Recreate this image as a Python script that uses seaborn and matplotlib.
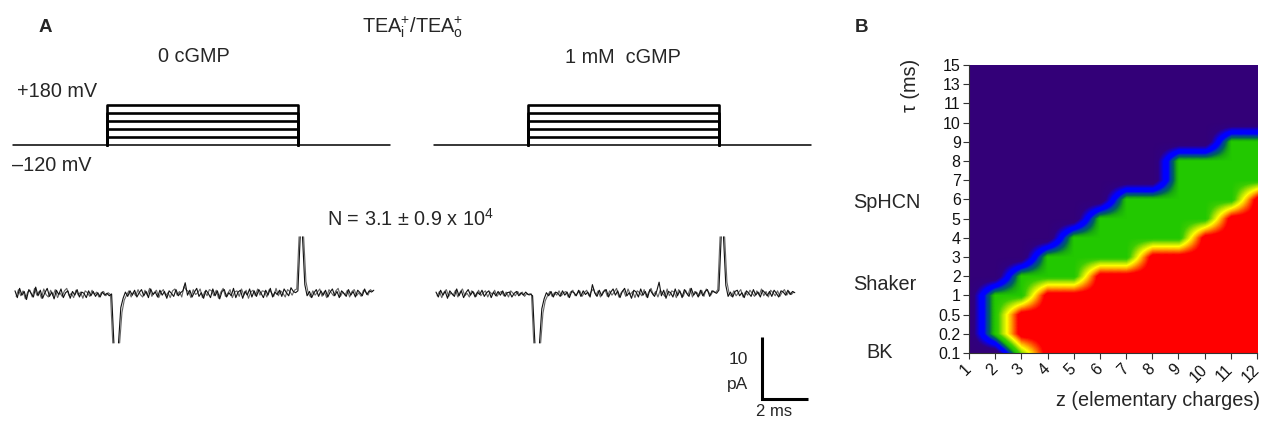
import numpy as np
import pandas as pd
import matplotlib
matplotlib.use("Agg")
import matplotlib.pyplot as plt
from matplotlib.colors import LinearSegmentedColormap
import seaborn as sns

# ------------------------------------------------------------------ data
# Voltage protocol (mV, ms)
holding_mV = -120
step_mV = [-60, 0, 60, 120, 180]
pulse_on_ms = 4.0
pulse_off_ms = 12.3
sweep_start_ms = -0.1
sweep_end_ms = 16.3

# Current traces (pA), two overlaid sweeps per condition, sampled every 0.1 ms,
# each in three pieces split at the clipped capacitive transients
trace_dt = 0.1
seg_start_a = [0.0, 4.5, 12.5]
seg_start_b = [0.05, 4.55, 12.55]

left_a_seg1 = [0.5, -0.6, 0.9, -0.2, 0.4, -0.9, 0.7, 0.1, -0.5, 1.1,
               -0.3, 0.6, -0.7, 0.2, 0.9, -0.4, 0.3, -0.8, 0.6, -0.1,
               0.8, -0.6, 0.2, 0.5, -0.7, 0.4, -0.2, 0.7, -0.5, 0.3,
               0.1, -0.6, 0.5, -0.3, 0.4, -0.4, 0.2, -0.5, 0.3, -0.2,
               0.1, -0.3, 0.0, -7.9]
left_a_seg2 = [-7.9, -2.2, -0.7, 0.3, -0.4, 0.5, -0.2, 0.6, -0.5, 0.2,
               0.7, -0.3, 0.4, -0.6, 0.8, -0.1, 0.3, -0.5, 0.6, -0.2,
               0.4, -0.7, 0.5, 0.1, -0.4, 0.7, -0.3, 0.2, 0.5, 1.8,
               -0.2, 0.6, -0.5, 0.3, 0.9, -0.4, 0.2, -0.7, 0.6, 0.1,
               -0.6, 0.8, -0.3, 0.5, -0.8, 0.4, 0.7, -0.5, 0.2, -0.3,
               0.9, -0.6, 0.3, 0.6, -0.7, 0.4, -0.2, 0.8, -0.5, 0.5,
               -0.4, 0.7, 0.1, -0.6, 0.6, -0.2, 0.9, -0.5, 0.3, -0.1,
               0.6, -0.4, 0.8, 0.2, -0.3, 1.0, 0.4, 0.2, 0.5, 9.2]
left_a_seg3 = [9.2, 1.5, -0.3, 0.4, -0.6, 0.2, 0.7, -0.4, 0.5, -0.2,
               0.6, -0.5, 0.3, 0.8, -0.3, 0.4, -0.6, 0.5, 0.1, -0.4,
               0.7, -0.2, 0.4, -0.5, 0.6, 0.2, -0.3, 0.8, -0.1, 0.5,
               0.3, 0.6]
left_b_seg1 = [-0.4, 0.7, -0.3, 0.5, -0.8, 0.3, 0.6, -0.5, 0.9, -0.2,
               0.4, -0.7, 0.8, -0.1, -0.5, 0.6, -0.3, 0.7, -0.6, 0.2,
               -0.4, 0.5, 0.9, -0.3, 0.1, -0.6, 0.6, -0.2, 0.3, -0.7,
               0.5, 0.2, -0.4, 0.6, -0.1, 0.3, -0.5, 0.2, 0.4, -0.3,
               0.2, -0.1, -7.9]
left_b_seg2 = [-7.9, -3.0, -1.0, -0.2, 0.5, -0.5, 0.3, -0.3, 0.7, -0.1,
               -0.5, 0.6, -0.2, 0.9, -0.4, 0.2, 0.6, -0.6, 0.3, 0.7,
               -0.3, 0.2, -0.6, 0.5, 0.8, -0.2, 0.4, -0.5, 1.2, 0.6,
               0.4, -0.6, 0.7, -0.1, 0.2, 0.8, -0.6, 0.4, -0.3, 0.7,
               0.5, -0.3, 0.6, -0.7, 0.3, 0.9, -0.4, 0.1, 0.7, -0.6,
               0.3, 0.5, -0.4, 0.8, -0.2, 0.6, -0.7, 0.3, 0.6, -0.3,
               0.8, -0.2, 0.5, 0.4, -0.5, 0.7, 0.2, -0.4, 0.9, -0.3,
               0.5, 0.1, -0.5, 0.7, 0.4, -0.2, 0.6, 0.8, 9.2]
left_b_seg3 = [9.2, 2.0, 0.1, -0.5, 0.5, -0.2, 0.3, 0.8, -0.4, 0.4,
               -0.6, 0.7, 0.2, -0.3, 0.5, 0.9, -0.4, 0.3, -0.2, 0.6,
               -0.5, 0.4, 0.7, -0.3, 0.2, -0.4, 0.6, 0.3, -0.2, 0.7,
               0.4]

right_a_seg1 = [0.3, -0.5, 0.6, -0.2, 0.4, -0.7, 0.5, 0.0, -0.4, 0.8,
                -0.3, 0.5, -0.6, 0.2, 0.7, -0.2, 0.4, -0.5, 0.3, -0.1,
                0.6, -0.4, 0.2, 0.5, -0.6, 0.3, -0.3, 0.4, -0.2, 0.5,
                -0.4, 0.2, 0.3, -0.5, 0.1, 0.4, -0.3, 0.2, -0.2, 0.3,
                -0.1, 0.0, -0.3, -7.9]
right_a_seg2 = [-7.9, -2.4, -0.8, 0.2, -0.3, 0.4, -0.5, 0.3, 0.1, -0.4,
                0.5, -0.2, 0.3, -0.6, 0.4, 0.2, -0.3, 0.6, -0.4, 0.5,
                -0.1, 0.3, -0.5, 1.5, 0.2, -0.4, 0.6, -0.3, 0.4, 0.7,
                -0.5, 0.3, 0.8, -0.2, 0.5, -0.6, 0.4, 0.9, -0.3, 0.2,
                -0.7, 0.6, 0.3, -0.5, 0.8, -0.2, 0.4, -0.6, 0.7, 0.1,
                -0.4, 0.5, 1.9, -0.3, 0.6, -0.7, 0.4, 0.2, -0.5, 0.8,
                -0.3, 0.5, -0.6, 0.7, 0.1, -0.4, 0.9, -0.2, 0.3, -0.5,
                0.6, -0.3, 0.4, 0.7, -0.4, 0.5, 0.3, 0.1, 0.6, 9.2]
right_a_seg3 = [9.2, 1.4, -0.4, 0.3, -0.5, 0.4, 0.6, -0.3, 0.2, -0.6,
                0.5, 0.1, -0.4, 0.7, -0.2, 0.3, -0.5, 0.6, 0.2, -0.3,
                0.4, -0.4, 0.6, 0.1, -0.5, 0.5, 0.3, -0.2, 0.6, -0.1,
                0.4, 0.2]
right_b_seg1 = [-0.3, 0.4, -0.6, 0.3, 0.7, -0.4, 0.2, -0.2, 0.6, -0.5,
                0.3, 0.8, -0.3, 0.1, -0.5, 0.5, 0.2, -0.4, 0.6, -0.3,
                0.2, 0.5, -0.5, 0.3, -0.1, 0.6, -0.4, 0.2, 0.4, -0.3,
                0.3, -0.5, 0.5, 0.1, -0.3, 0.4, -0.2, 0.3, -0.4, 0.1,
                -0.2, 0.0, -7.9]
right_b_seg2 = [-7.9, -3.1, -1.1, -0.3, 0.4, -0.4, 0.2, -0.2, 0.5, -0.3,
                0.2, 0.4, -0.5, 0.3, 0.6, -0.3, 0.1, 0.5, -0.4, 0.2,
                0.6, -0.3, 0.4, 0.8, -0.2, 0.5, -0.5, 0.3, 0.7, -0.4,
                0.5, -0.2, 0.3, 0.9, -0.5, 0.2, 0.6, -0.4, 0.8, -0.1,
                0.4, -0.6, 0.5, 0.2, -0.3, 0.7, -0.5, 0.3, 0.9, -0.2,
                0.4, -0.5, 0.6, 0.1, -0.4, 0.8, -0.3, 0.5, 0.3, -0.6,
                0.7, 0.1, -0.4, 0.6, -0.2, 0.9, -0.5, 0.4, 0.2, -0.3,
                0.6, -0.4, 0.8, 0.3, -0.2, 0.5, 0.2, 0.7, 9.2]
right_b_seg3 = [9.2, 1.9, 0.0, -0.4, 0.5, -0.3, 0.2, 0.7, -0.5, 0.3,
                -0.2, 0.6, 0.1, -0.4, 0.5, -0.2, 0.8, -0.3, 0.4, -0.5,
                0.6, 0.2, -0.3, 0.5, -0.4, 0.3, 0.7, -0.2, 0.4, -0.1,
                0.3]
scale_ms = 2
scale_pA = 10

# Panel B: map over z (columns) and tau (rows, bottom = 0.1 ms)
z_charges = [1, 2, 3, 4, 5, 6, 7, 8, 9, 10, 11, 12]
tau_labels = ["0.1", "0.2", "0.5", "1", "2", "3", "4", "5", "6", "7",
              "8", "9", "10", "11", "13", "15"]
occupancy = [
    [0, 0, 1.2, 2, 2, 2, 2, 2, 2, 2, 2, 2],   # 0.1
    [0, 1, 2, 2, 2, 2, 2, 2, 2, 2, 2, 2],     # 0.2
    [0, 1, 2, 2, 2, 2, 2, 2, 2, 2, 2, 2],     # 0.5
    [0, 1, 1, 2, 2, 2, 2, 2, 2, 2, 2, 2],     # 1
    [0, 0, 1, 1, 1, 2, 2, 2, 2, 2, 2, 2],     # 2
    [0, 0, 0, 1, 1, 1, 1, 2, 2, 2, 2, 2],     # 3
    [0, 0, 0, 0, 1, 1, 1, 1, 1, 2, 2, 2],     # 4
    [0, 0, 0, 0, 0, 1, 1, 1, 1, 1, 2, 2],     # 5
    [0, 0, 0, 0, 0, 0, 1, 1, 1, 1, 1, 2],     # 6
    [0, 0, 0, 0, 0, 0, 0, 0, 1, 1, 1, 1],     # 7
    [0, 0, 0, 0, 0, 0, 0, 0, 1, 1, 1, 1],     # 8
    [0, 0, 0, 0, 0, 0, 0, 0, 0, 0, 1, 1],     # 9
    [0, 0, 0, 0, 0, 0, 0, 0, 0, 0, 0, 0],     # 10
    [0, 0, 0, 0, 0, 0, 0, 0, 0, 0, 0, 0],     # 11
    [0, 0, 0, 0, 0, 0, 0, 0, 0, 0, 0, 0],     # 13
    [0, 0, 0, 0, 0, 0, 0, 0, 0, 0, 0, 0],     # 15
]
channel_names = ["SpHCN", "Shaker", "BK"]

# ------------------------------------------------------------------ style
sns.set_theme(style="ticks")
plt.rcParams["font.family"] = ["Liberation Sans", "DejaVu Sans"]
plt.rcParams["mathtext.fontset"] = "custom"
plt.rcParams["mathtext.rm"] = "Liberation Sans"
plt.rcParams["mathtext.it"] = "Liberation Sans:italic"

W, H = 1262, 428
fig = plt.figure(figsize=(W / 100, H / 100), dpi=100)


def add_ax(l, t, w, h):
    return fig.add_axes([l / W, 1 - (t + h) / H, w / W, h / H])


def ftext(x, y, s, **kw):
    fig.text(x / W, 1 - y / H, s, **kw)


PX_PER_MS = 23.0
T_MIN = -0.2
AX_W = 410
t_range = (T_MIN, T_MIN + AX_W / PX_PER_MS)
origins = [15, 436]

# protocol frame
pulse_rows = []
for k, v in enumerate(step_mV):
    for t, u in [(pulse_on_ms, holding_mV), (pulse_on_ms, v),
                 (pulse_off_ms, v), (pulse_off_ms, holding_mV)]:
        pulse_rows.append({"t": t, "V": u, "step": k})
pulses = pd.DataFrame(pulse_rows)
holding = pd.DataFrame({"t": [sweep_start_ms, sweep_end_ms],
                        "V": [holding_mV, holding_mV]})


def trace_frame(segs, starts):
    rows = []
    for si, seg in enumerate(segs):
        for i, val in enumerate(seg):
            rows.append({"t": starts[si] + trace_dt * i, "I": val, "seg": si})
    return pd.DataFrame(rows)


traces = [
    (trace_frame([left_b_seg1, left_b_seg2, left_b_seg3], seg_start_b),
     trace_frame([left_a_seg1, left_a_seg2, left_a_seg3], seg_start_a)),
    (trace_frame([right_b_seg1, right_b_seg2, right_b_seg3], seg_start_b),
     trace_frame([right_a_seg1, right_a_seg2, right_a_seg3], seg_start_a)),
]

for side, x0 in enumerate(origins):
    left_px = x0 + T_MIN * PX_PER_MS
    # protocol
    axp = add_ax(left_px, 95, AX_W, 60)
    sns.lineplot(data=holding, x="t", y="V", estimator=None, color="black", lw=1.1,
                 ax=axp, sort=False)
    sns.lineplot(data=pulses, x="t", y="V", units="step", estimator=None, sort=False,
                 color="black", lw=1.9, ax=axp)
    axp.set_xlim(*t_range)
    axp.set_ylim(-195, 255)
    axp.set_axis_off()
    # traces
    axt = add_ax(left_px, 230, AX_W, 180)
    sweep_b, sweep_a = traces[side]
    sns.lineplot(data=sweep_b, x="t", y="I", units="seg", estimator=None,
                 sort=False, color="#666666", lw=0.8, ax=axt)
    sns.lineplot(data=sweep_a, x="t", y="I", units="seg", estimator=None,
                 sort=False, color="#111111", lw=0.8, ax=axt)
    axt.set_xlim(*t_range)
    axt.set_ylim(-18.7, 10.3)
    axt.set_axis_off()
    if side == 1:
        bar_t, bar_i = 14.17, -16.9
        bar = pd.DataFrame({"t": [bar_t, bar_t, bar_t + scale_ms],
                            "I": [bar_i + scale_pA, bar_i, bar_i]})
        sns.lineplot(data=bar, x="t", y="I", estimator=None, sort=False,
                     color="black", lw=2.2, ax=axt)
        axt.lines[-1].set_solid_joinstyle("miter")
        axt.lines[-1].set_solid_capstyle("butt")

# panel A texts
FS = 14.3
ftext(45, 28, "A", fontsize=13.5, fontweight="bold", ha="center", va="center")
ftext(413, 32, r"TEA$_\mathregular{i}^\mathregular{+}$/TEA$_\mathregular{o}^\mathregular{+}$",
      fontsize=FS, ha="center", va="baseline")
ftext(194, 62, "0 cGMP", fontsize=FS, ha="center", va="baseline")
ftext(623, 63, "1 mM  cGMP", fontsize=FS, ha="center", va="baseline")
ftext(17, 97, "+180 mV", fontsize=FS, ha="left", va="baseline")
ftext(12, 171, "\u2013120 mV", fontsize=FS, ha="left", va="baseline")
ftext(410, 226, r"N = 3.1 ± 0.9 x 10$^\mathregular{4}$", fontsize=FS, ha="center",
      va="baseline")
ftext(738, 360, str(scale_pA), fontsize=12.5, ha="center", va="center")
ftext(738, 385, "pA", fontsize=12.5, ha="center", va="center")
ftext(774, 411, f"{scale_ms} ms", fontsize=12, ha="center", va="center")

# ------------------------------------------------------------------ panel B
nodes = [(0.0, "#330078"), (0.2, "#300080"), (0.32, "#1a00c0"), (0.42, "#0000ff"),
         (0.58, "#0000ff"), (0.68, "#0040a0"), (0.78, "#006060"), (0.9, "#18a810"),
         (1.0, "#22c800"), (1.12, "#3ccc00"), (1.3, "#b0e400"), (1.45, "#ffff00"),
         (1.6, "#ffb000"), (1.75, "#ff5000"), (1.88, "#ff0000"), (2.0, "#ff0000")]
cmap = LinearSegmentedColormap.from_list("occ", [(v / 2, c) for v, c in nodes])

axh = add_ax(969, 65, 288, 288)
axh.imshow(np.array(occupancy, dtype=float), origin="lower", cmap=cmap, vmin=0, vmax=2,
           extent=(z_charges[0] - 0.5, z_charges[-1] + 0.5, -0.5, len(tau_labels) - 0.5),
           interpolation="bilinear", interpolation_stage="data", aspect="auto")
axh.set_xlim(z_charges[0], z_charges[-1])
axh.set_ylim(0, len(tau_labels) - 1)
axh.set_xticks(z_charges)
axh.set_xticklabels([str(z) for z in z_charges], rotation=45, ha="right", va="center",
                    rotation_mode="anchor")
axh.set_yticks(range(len(tau_labels)))
axh.set_yticklabels(tau_labels)
axh.tick_params(axis="both", length=4, width=0.8, labelsize=11.5, pad=2,
                color="#333333", labelcolor="#111111")
axh.tick_params(axis="x", pad=6)
sns.despine(ax=axh)
for sp in ["left", "bottom"]:
    axh.spines[sp].set_linewidth(0.8)
    axh.spines[sp].set_color("#333333")
axh.grid(False)

ftext(861, 27, "B", fontsize=13.5, fontweight="bold", ha="center", va="center")
ftext(910, 85, "\u03c4 (ms)", fontsize=FS, rotation=90, ha="center", va="center")
ftext(1260, 400, "z (elementary charges)", fontsize=FS, ha="right", va="center")
ftext(853, 202, channel_names[0], fontsize=FS, ha="left", va="center")
ftext(853, 284, channel_names[1], fontsize=FS, ha="left", va="center")
ftext(866, 352, channel_names[2], fontsize=FS, ha="left", va="center")

fig.savefig("out.png", dpi=100, facecolor="white")
